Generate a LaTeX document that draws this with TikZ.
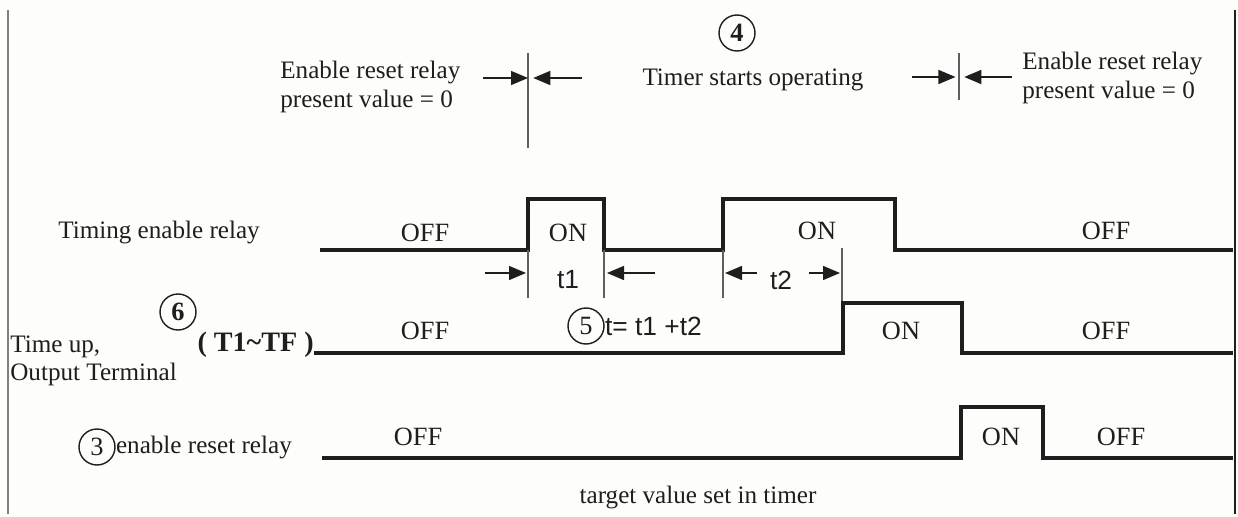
\documentclass[tikz,border=0pt]{standalone}
\usepackage{fontspec}
\setmainfont{Liberation Serif}
\newfontfamily\sansfont{Liberation Sans}
\usetikzlibrary{arrows.meta,positioning}
\definecolor{inkgrey}{RGB}{30,30,30}
\definecolor{tickgrey}{RGB}{95,95,95}
\definecolor{paper}{RGB}{253,253,251}

\begin{document}
\begin{tikzpicture}[x=0.02cm,y=-0.02cm,
        lbl/.style={inner sep=0pt,text=inkgrey,font=\fontsize{14.3}{16}\selectfont},
        state/.style={inner sep=0pt,text=inkgrey,font=\fontsize{15}{18}\selectfont},
        tlbl/.style={inner sep=0pt,text=inkgrey,font=\sansfont\fontsize{15}{17}\selectfont},
        num/.style={draw=inkgrey,circle,line width=0.8pt,minimum size=0.72cm,inner sep=0pt,
                    text=inkgrey,font=\fontsize{15}{17}\selectfont\bfseries},
        wave/.style={line width=1.8pt,draw=inkgrey},
        tick/.style={line width=0.7pt,draw=tickgrey},
        dim/.style={-{Triangle[length=0.34cm,width=0.28cm]},line width=0.8pt,draw=inkgrey}
    ]
        % Page and frame
        \fill[paper] (0,0) rectangle (1238,517);
        \useasboundingbox (0,0) rectangle (1238,517);
        \draw[line width=1pt,draw=gray] (8,10) -- (8,514);
        \draw[line width=1.4pt,draw=inkgrey] (1235,10) -- (1235,514);

        % Top markers
        \node[num] (n4) at (737,33) {4};
        \node[lbl] (start) at (753,80) {Timer starts operating};
        \node[lbl,anchor=west,align=left] (resetA) at (280,87) {Enable reset relay\\present value = 0};
        \node[lbl,anchor=west,align=left] (resetB) at (1022,78) {Enable reset relay\\present value = 0};
        \coordinate (markA) at (528,78);
        \coordinate (markB) at (959,77);
        \draw[tick] (528,53) -- (528,148);
        \draw[tick] (959,53) -- (959,100);
        \draw[dim] (483,78) -- (markA);
        \draw[dim] (582,78) -- ([xshift=3]markA);
        \draw[dim] (912,77) -- ([xshift=-2]markB);
        \draw[dim] (1012,77) -- ([xshift=3]markB);

        % Row 1: timing enable relay
        \node[lbl,anchor=west] (enable) at (58,232) {Timing enable relay};
        \draw[wave] (320,250) -- (528,250) -- (528,199) -- (604,199) -- (604,250)
            -- (723,250) -- (723,199) -- (895,199) -- (895,250) -- (1233,250);
        \node[state] (off1a) at (425,233) {OFF};
        \node[state] (on1a) at (568,233) {ON};
        \node[state] (on1b) at (817,231) {ON};
        \node[state] (off1b) at (1106,231) {OFF};

        % t1 and t2
        \draw[tick] (528,250) -- (528,298);
        \draw[tick] (604,250) -- (604,298);
        \draw[tick] (723,250) -- (723,298);
        \draw[tick] (842,248) -- (842,303);
        \node[tlbl] (t1) at (568,280) {t1};
        \node[tlbl] (t2) at (781,280) {t2};
        \coordinate (t1L) at (526,273);
        \coordinate (t1R) at (607,273);
        \coordinate (t2L) at (725,273);
        \coordinate (t2R) at (840,273);
        \draw[dim] (485,273) -- (t1L);
        \draw[dim] (655,273) -- (t1R);
        \draw[dim] (757,273) -- (t2L);
        \draw[dim] (809,273) -- (t2R);

        % Row 2: time up output
        \node[num] (n6) at (178,312) {6};
        \node[lbl,anchor=west,align=left] (timeup) at (10,361) {Time up,\\Output Terminal};
        \node[lbl,anchor=east,font=\fontsize{16}{18}\selectfont\bfseries] (tout) at (314,345) {( T1\textasciitilde TF )};
        \draw[wave] (tout.east |- 0,353) -- (843,353) -- (843,303) -- (962,303) -- (962,353) -- (1233,353);
        \node[state] (off2a) at (425,331) {OFF};
        \node[num,font=\fontsize{15}{17}\selectfont] (n5) at (586,326) {5};
        \node[tlbl,anchor=west] (tsum) at (n5.east) {t= t1 +t2};
        \node[state] (on2) at (901,331) {ON};
        \node[state] (off2b) at (1106,331) {OFF};

        % Row 3: enable reset relay
        \node[num,font=\fontsize{15}{17}\selectfont] (n3) at (97,447) {3};
        \node[lbl,anchor=west] (reset) at (n3.east) {enable reset relay};
        \draw[wave] (322,458) -- (961,458) -- (961,407) -- (1043,407) -- (1043,458) -- (1233,458);
        \node[state] (off3a) at (418,437) {OFF};
        \node[state] (on3) at (1001,437) {ON};
        \node[state] (off3b) at (1121,437) {OFF};
        \node[lbl] (target) at (698,497) {target value set in timer};
    \end{tikzpicture}
\end{document}
